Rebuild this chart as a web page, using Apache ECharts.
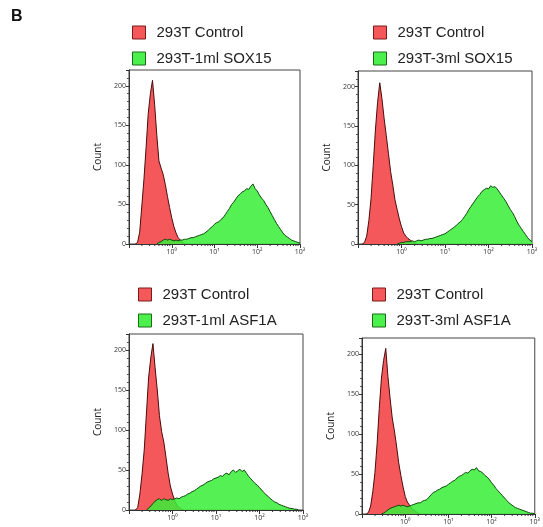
<!DOCTYPE html>
<html>
<head>
<meta charset="utf-8">
<script src="https://cdn.jsdelivr.net/npm/echarts@6/dist/echarts.min.js"></script>
<style>
  html, body { margin: 0; padding: 0; background: #fff; }
  #main { width: 543px; height: 527px; }
</style>
</head>
<body>
<div id="main"></div>
<script>
// bins are log10 of fluorescence, 0.05 decade apart
const BIN = 0.05

// panel 1 - 1ml SOX15
const red1Start = -0.85
const red1 = [0, 2, 15, 48, 82, 122, 165, 190, 207, 176, 138, 105, 96, 88, 75, 60, 46, 33, 22, 14, 8, 5, 2, 0]
const green1Start = -0.35
const green1 = [0, 2, 3, 5, 6, 5, 6, 5, 4, 5, 4, 5, 5, 6, 6, 7, 8, 8, 9, 10, 11, 12, 13, 15, 17, 20, 22, 25,
  27, 28, 31, 33, 37, 41, 45, 50, 53, 57, 61, 63, 66, 67, 70, 69, 73, 76, 70, 67, 62, 58, 55, 50, 46, 41,
  36, 31, 26, 22, 18, 14, 11, 9, 7, 5, 4, 3, 2, 1]

// panel 2 - 3ml SOX15
const red2Start = -0.9
const red2 = [0, 2, 10, 30, 58, 100, 145, 180, 205, 185, 160, 138, 115, 92, 75, 56, 44, 32, 22, 14, 10, 7, 5, 3, 1, 0]
const green2Start = -0.1
const green2 = [0, 1, 2, 2, 3, 3, 3, 4, 3, 4, 5, 4, 5, 6, 6, 7, 7, 8, 9, 10, 11, 12, 13, 15, 17, 19, 21, 23,
  26, 28, 31, 35, 39, 44, 48, 52, 56, 60, 63, 67, 69, 71, 70, 74, 72, 73, 70, 66, 62, 58, 54, 49, 44, 40,
  35, 29, 24, 20, 16, 12, 8, 5, 3]

// panel 3 - 1ml ASF1A
const red3Start = -0.85
const red3 = [0, 3, 20, 45, 75, 120, 165, 190, 208, 178, 150, 118, 98, 85, 66, 46, 30, 20, 12, 6, 3, 1, 0]
const green3Start = -0.6
const green3 = [0, 2, 5, 8, 11, 13, 14, 12, 14, 13, 12, 14, 13, 14, 15, 14, 16, 17, 18, 20, 21, 23, 24, 26,
  28, 30, 31, 33, 35, 36, 37, 39, 40, 41, 43, 42, 45, 46, 44, 48, 50, 47, 49, 51, 48, 50, 46, 42, 39, 36,
  33, 31, 28, 25, 22, 19, 17, 14, 12, 10, 9, 7, 6, 5, 4, 3, 2, 2, 1, 1, 0]

// panel 4 - 3ml ASF1A
const red4Start = -0.9
const red4 = [0, 2, 10, 28, 52, 88, 132, 170, 192, 207, 172, 145, 120, 104, 85, 64, 48, 34, 22, 15, 11, 7, 5, 3, 1, 0]
const green4Start = -0.55
const green4 = [0, 1, 3, 5, 7, 8, 9, 10, 11, 10, 11, 10, 9, 10, 11, 12, 13, 14, 14, 16, 17, 18, 21, 24, 27,
  28, 30, 31, 33, 34, 35, 37, 39, 41, 42, 45, 47, 48, 50, 52, 51, 54, 56, 55, 58, 54, 53, 51, 48, 46, 43,
  39, 36, 32, 29, 26, 23, 20, 17, 14, 12, 10, 8, 7, 6, 5, 4, 3, 2, 1, 1, 0]

const controlName = '293T Control'
const sampleNames = ['293T-1ml SOX15', '293T-3ml SOX15', '293T-1ml ASF1A', '293T-3ml ASF1A']
const decadeLabels = { 0: '10⁰', 1: '10¹', 2: '10²', 3: '10³' }

const panels = [
  { red: red1, redStart: red1Start, green: green1, greenStart: green1Start, grid: { left: 129, top: 70, width: 171, height: 174 }, legend: { left: 132, top: 25 } },
  { red: red2, redStart: red2Start, green: green2, greenStart: green2Start, grid: { left: 358, top: 71, width: 174, height: 173 }, legend: { left: 373, top: 25 } },
  { red: red3, redStart: red3Start, green: green3, greenStart: green3Start, grid: { left: 129, top: 334, width: 174, height: 176 }, legend: { left: 138, top: 287 } },
  { red: red4, redStart: red4Start, green: green4, greenStart: green4Start, grid: { left: 362, top: 338, width: 176, height: 176 }, legend: { left: 372, top: 287 } }
]

const RED = '#f5585a'
const RED_LINE = '#4a0c0c'
const GREEN = '#38ee38'
const GREEN_LINE = '#0c4a0c'

function toPoints (start, counts) {
  return counts.map((c, i) => [+(start + i * BIN).toFixed(2), c])
}

// minor ticks of a log axis: 2..9 in every decade
const minorTicks = []
for (let d = -1; d < 3; d++) {
  for (let k = 2; k <= 9; k++) minorTicks.push([d + Math.log10(k), 0])
}

const grids = []
const xAxes = []
const yAxes = []
const legends = []
const series = []

panels.forEach((p, i) => {
  grids.push(Object.assign({ show: true, borderColor: '#444', borderWidth: 1, backgroundColor: '#fff' }, p.grid))
  xAxes.push({
    type: 'value',
    gridIndex: i,
    min: -1,
    max: 3,
    interval: 1,
    axisLine: { onZero: false, lineStyle: { color: '#333', width: 1 } },
    axisTick: { length: 4, lineStyle: { color: '#333' } },
    axisLabel: {
      fontSize: 7,
      color: '#333',
      margin: 4,
      fontFamily: 'Open Sans',
      formatter: v => decadeLabels[v] || ''
    },
    splitLine: { show: false }
  })
  yAxes.push({
    type: 'value',
    gridIndex: i,
    min: 0,
    max: 220,
    interval: 50,
    name: 'Count',
    nameLocation: 'middle',
    nameGap: 26,
    nameRotate: 90,
    nameTextStyle: { fontSize: 10, color: '#222', fontFamily: 'Open Sans' },
    axisLine: { show: true, onZero: false, lineStyle: { color: '#333', width: 1 } },
    axisTick: { show: true, length: 3, lineStyle: { color: '#333' } },
    minorTick: { show: true, splitNumber: 5, length: 2, lineStyle: { color: '#555' } },
    axisLabel: {
      fontSize: 7,
      color: '#333',
      margin: 3,
      fontFamily: 'Open Sans',
      showMaxLabel: false,
      formatter: v => (v % 50 === 0 ? String(v) : '')
    },
    splitLine: { show: false }
  })
  legends.push({
    orient: 'vertical',
    left: p.legend.left,
    top: p.legend.top,
    padding: 0,
    icon: 'rect',
    itemWidth: 13,
    itemHeight: 13,
    itemGap: 11,
    selectedMode: false,
    textStyle: { fontSize: 15, color: '#222', fontFamily: 'Liberation Sans', padding: [0, 0, 0, 6] },
    data: [
      { name: controlName, itemStyle: { color: RED, borderColor: '#7a1a1a', borderWidth: 1 } },
      { name: sampleNames[i], itemStyle: { color: '#4cf04c', borderColor: '#1a6a1a', borderWidth: 1 } }
    ]
  })
  series.push({
    type: 'line',
    name: controlName,
    xAxisIndex: i,
    yAxisIndex: i,
    data: toPoints(p.redStart, p.red),
    showSymbol: false,
    symbol: 'none',
    itemStyle: { color: RED },
    lineStyle: { color: RED_LINE, width: 1 },
    areaStyle: { color: RED, opacity: 1 },
    z: 2
  })
  series.push({
    type: 'line',
    name: sampleNames[i],
    xAxisIndex: i,
    yAxisIndex: i,
    data: toPoints(p.greenStart, p.green),
    showSymbol: false,
    symbol: 'none',
    itemStyle: { color: GREEN },
    lineStyle: { color: GREEN_LINE, width: 1 },
    areaStyle: { color: GREEN, opacity: 0.86 },
    z: 3
  })
  series.push({
    type: 'custom',
    xAxisIndex: i,
    yAxisIndex: i,
    silent: true,
    clip: false,
    data: minorTicks,
    renderItem (params, api) {
      const pt = api.coord([api.value(0), 0])
      return {
        type: 'line',
        shape: { x1: pt[0], y1: pt[1], x2: pt[0], y2: pt[1] + 2 },
        style: { stroke: '#333', lineWidth: 1 }
      }
    },
    z: 4
  })
})

const chart = echarts.init(document.getElementById('main'), null, { renderer: 'canvas' })
chart.setOption({
  animation: false,
  backgroundColor: '#fff',
  graphic: [{
    type: 'text',
    left: 11,
    top: 9,
    style: { text: 'B', fontSize: 16, fontWeight: 'bold', fill: '#111', fontFamily: 'Liberation Sans' }
  }],
  grid: grids,
  xAxis: xAxes,
  yAxis: yAxes,
  legend: legends,
  series: series
})
</script>
</body>
</html>
